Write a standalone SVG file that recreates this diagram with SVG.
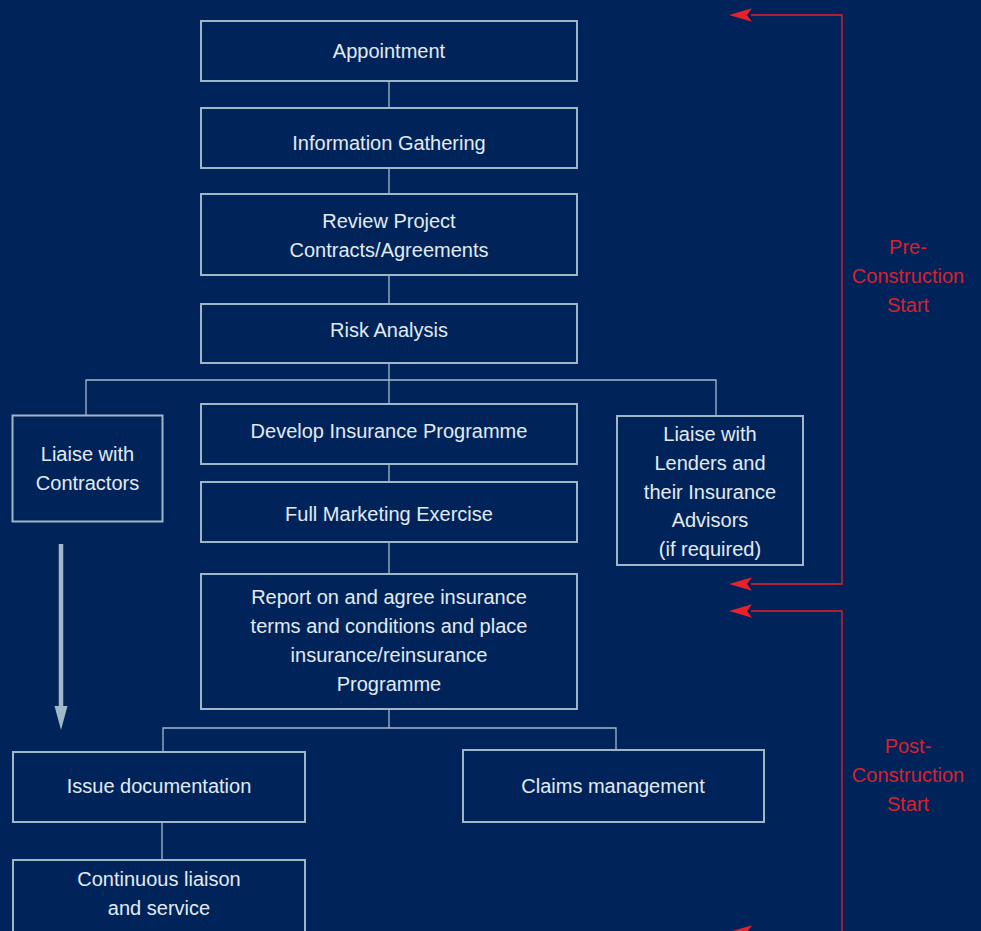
<svg xmlns="http://www.w3.org/2000/svg" width="981" height="931" viewBox="0 0 981 931">
<defs>
<style>
.box{fill:#00245a;stroke:#9fb5c8;stroke-width:2}
.t{font-family:"Liberation Sans",Arial,sans-serif;font-size:20px;fill:#e3eaf1;text-anchor:middle}
.r{font-family:"Liberation Sans",Arial,sans-serif;font-size:20px;fill:#d9202e;text-anchor:middle}
.c{stroke:#a3b9cb;stroke-width:1.3;fill:none}
.rl{stroke:#e8202a;stroke-width:1.3;fill:none}
</style>
<marker id="ra" viewBox="0 0 24 14" refX="1" refY="7" markerWidth="24" markerHeight="14" markerUnits="userSpaceOnUse" orient="auto-start-reverse">
<path d="M0,7 L23,0 L18,7 L23,14 Z" fill="#e8202a"/>
</marker>
</defs>
<rect width="981" height="931" fill="#00245a"/>
<g id="connectors">
<path class="c" d="M389,81V108M389,168V194M389,275V304M389,363V404M389,464V482M389,542V574M389,709V728"/>
<path class="c" d="M86,415V380H716V415"/>
<path class="c" d="M163,752V728H616V750"/>
<path class="c" d="M162,822V860"/>
<path d="M61,544V708" stroke="#a0b8c8" stroke-width="4.5"/>
<path d="M54.5,706H67.5L61,730Z" fill="#a0b8c8"/>
<path class="rl" d="M751,15H842V584H751" />
<path class="rl" d="M751,611H842V932H751" />
<path d="M729,15L752,8.3L747,15L752,21.7Z" fill="#e8202a"/>
<path d="M729,584L752,577.3L747,584L752,590.7Z" fill="#e8202a"/>
<path d="M729,611L752,604.3L747,611L752,617.7Z" fill="#e8202a"/>
<path d="M729,932L752,925.3L747,932L752,938.7Z" fill="#e8202a"/>
</g>
<g id="appointment"><rect class="box" x="201" y="21" width="376" height="60"/><text class="t" x="389" y="58">Appointment</text></g>
<g id="info"><rect class="box" x="201" y="108" width="376" height="60"/><text class="t" x="389" y="150">Information Gathering</text></g>
<g id="review"><rect class="box" x="201" y="194" width="376" height="81"/><text class="t" x="389" y="228">Review Project</text><text class="t" x="389" y="257">Contracts/Agreements</text></g>
<g id="risk"><rect class="box" x="201" y="304" width="376" height="59"/><text class="t" x="389" y="337">Risk Analysis</text></g>
<g id="contractors"><rect class="box" x="12.5" y="415.5" width="150" height="106"/><text class="t" x="87.5" y="461">Liaise with</text><text class="t" x="87.5" y="490">Contractors</text></g>
<g id="develop"><rect class="box" x="201" y="404" width="376" height="60"/><text class="t" x="389" y="438">Develop Insurance Programme</text></g>
<g id="marketing"><rect class="box" x="201" y="482" width="376" height="60"/><text class="t" x="389" y="521">Full Marketing Exercise</text></g>
<g id="lenders"><rect class="box" x="617" y="416" width="186" height="149"/><text class="t" x="710" y="441">Liaise with</text><text class="t" x="710" y="470">Lenders and</text><text class="t" x="710" y="499">their Insurance</text><text class="t" x="710" y="527">Advisors</text><text class="t" x="710" y="556">(if required)</text></g>
<g id="report"><rect class="box" x="201" y="574" width="376" height="135"/><text class="t" x="389" y="604">Report on and agree insurance</text><text class="t" x="389" y="633">terms and conditions and place</text><text class="t" x="389" y="662">insurance/reinsurance</text><text class="t" x="389" y="691">Programme</text></g>
<g id="issue"><rect class="box" x="13" y="752" width="292" height="70"/><text class="t" x="159" y="793">Issue documentation</text></g>
<g id="claims"><rect class="box" x="463" y="750" width="301" height="72"/><text class="t" x="613" y="793">Claims management</text></g>
<g id="continuous"><rect class="box" x="13" y="860" width="292" height="74"/><text class="t" x="159" y="886">Continuous liaison</text><text class="t" x="159" y="915">and service</text></g>
<g id="pre"><text class="r" x="908" y="254">Pre-</text><text class="r" x="908" y="283">Construction</text><text class="r" x="908" y="312">Start</text></g>
<g id="post"><text class="r" x="908" y="753">Post-</text><text class="r" x="908" y="782">Construction</text><text class="r" x="908" y="811">Start</text></g>
</svg>
